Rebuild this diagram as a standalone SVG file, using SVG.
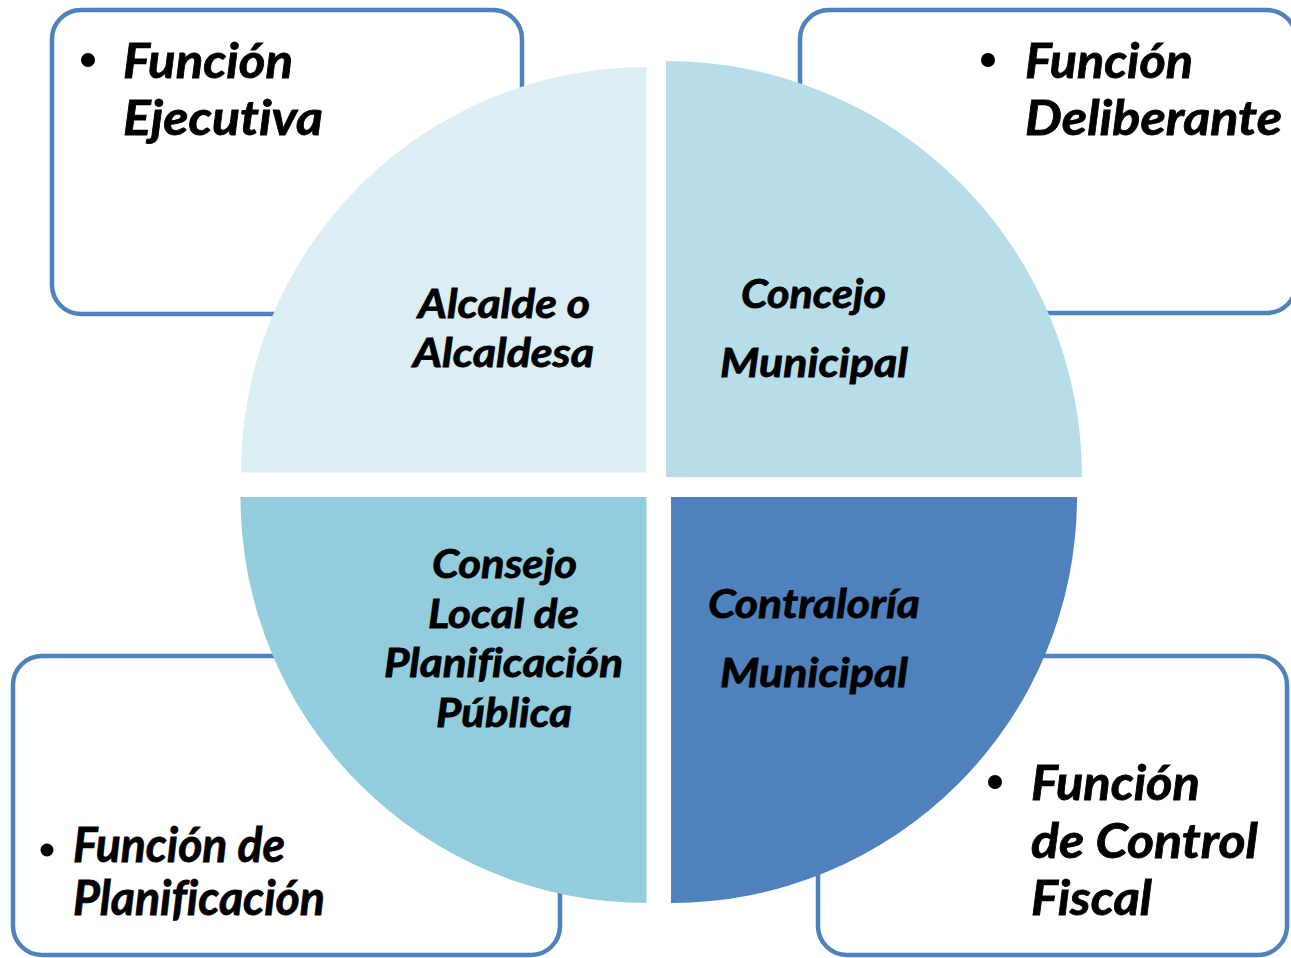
<svg xmlns="http://www.w3.org/2000/svg" width="1291" height="958" viewBox="0 0 1291 958">
<style>
.box{fill:#ffffff;stroke:#4f81bd;stroke-width:4.5}
.t{font-family:Lato,"Open Sans","Liberation Sans",sans-serif;font-weight:bold;font-style:italic;fill:#000000;stroke:#000000;stroke-width:0.8;font-variant-ligatures:none;font-feature-settings:"liga" 0}
.big{font-size:48px}
.mid{font-size:40px}
.c{text-anchor:middle}
</style>
<rect width="1291" height="958" fill="#ffffff"/>
<g id="box-ejecutiva">
<rect class="box" x="52" y="10" width="470" height="304" rx="29"/>
<circle cx="88" cy="60" r="7"/>
<text class="t big" x="123" y="78" textLength="170" lengthAdjust="spacingAndGlyphs">Función</text>
<text class="t big" x="123" y="135" textLength="200" lengthAdjust="spacingAndGlyphs">Ejecutiva</text>
</g>
<g id="box-deliberante">
<rect class="box" x="800" y="10" width="496" height="303" rx="29"/>
<circle cx="988" cy="60" r="7"/>
<text class="t big" x="1025" y="78" textLength="168" lengthAdjust="spacingAndGlyphs">Función</text>
<text class="t big" x="1025" y="135" textLength="257" lengthAdjust="spacingAndGlyphs">Deliberante</text>
</g>
<g id="box-planificacion">
<rect class="box" x="13" y="656" width="547" height="299" rx="29"/>
<circle cx="47" cy="850" r="6.5"/>
<text class="t big" x="73" y="862" textLength="212" lengthAdjust="spacingAndGlyphs">Función de</text>
<text class="t big" x="73" y="915" textLength="252" lengthAdjust="spacingAndGlyphs">Planificación</text>
</g>
<g id="box-control">
<rect class="box" x="818" y="656" width="469" height="299" rx="29"/>
<circle cx="995" cy="782" r="7"/>
<text class="t big" x="1031" y="800" textLength="169" lengthAdjust="spacingAndGlyphs">Función</text>
<text class="t big" x="1031" y="858" textLength="227" lengthAdjust="spacingAndGlyphs">de Control</text>
<text class="t big" x="1031" y="915" textLength="121" lengthAdjust="spacingAndGlyphs">Fiscal</text>
</g>
<g id="q-alcalde">
<path d="M646.5,472.5 L241,472.5 A405.5,405.5 0 0 1 646.5,67 Z" fill="#dbeef4"/>
<text class="t mid c" x="504" y="318" textLength="172" lengthAdjust="spacingAndGlyphs">Alcalde o</text>
<text class="t mid c" x="503.5" y="367" textLength="181" lengthAdjust="spacingAndGlyphs">Alcaldesa</text>
</g>
<g id="q-concejo">
<path d="M666,477 L666,61 A416,416 0 0 1 1082,477 Z" fill="#b7dee8"/>
<text class="t mid c" x="813.5" y="308" textLength="145" lengthAdjust="spacingAndGlyphs">Concejo</text>
<text class="t mid c" x="814" y="377" textLength="188" lengthAdjust="spacingAndGlyphs">Municipal</text>
</g>
<g id="q-consejo">
<path d="M646.5,497 L646.5,903 A406,406 0 0 1 240.5,497 Z" fill="#93cddd"/>
<text class="t mid c" x="504.5" y="578" textLength="145" lengthAdjust="spacingAndGlyphs">Consejo</text>
<text class="t mid c" x="503.5" y="628" textLength="151" lengthAdjust="spacingAndGlyphs">Local de</text>
<text class="t mid c" x="503.5" y="677" textLength="239" lengthAdjust="spacingAndGlyphs">Planificación</text>
<text class="t mid c" x="504" y="727" textLength="136" lengthAdjust="spacingAndGlyphs">Pública</text>
</g>
<g id="q-contraloria">
<path d="M671,497 L1077,497 A406,406 0 0 1 671,903 Z" fill="#4f81bd"/>
<text class="t mid c" x="814" y="618" textLength="212" lengthAdjust="spacingAndGlyphs">Contraloría</text>
<text class="t mid c" x="814" y="687" textLength="188" lengthAdjust="spacingAndGlyphs">Municipal</text>
</g>
</svg>
